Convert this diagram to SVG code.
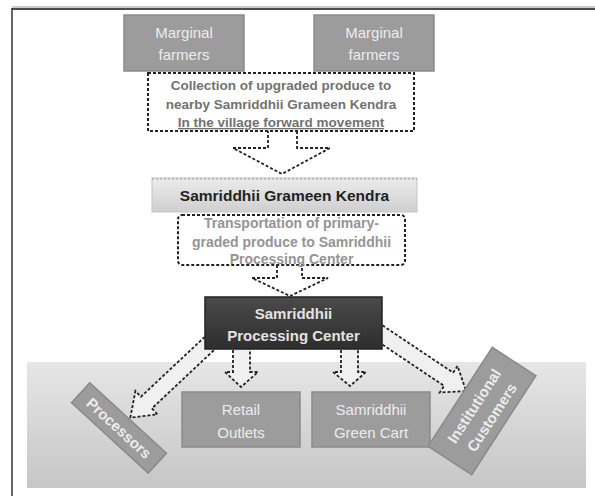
<svg xmlns="http://www.w3.org/2000/svg" width="595" height="496" viewBox="0 0 595 496">
<defs>
<linearGradient id="band" x1="0" y1="0" x2="0" y2="1">
<stop offset="0" stop-color="#e6e6e6"/>
<stop offset="1" stop-color="#c6c6c6"/>
</linearGradient>
<linearGradient id="bar" x1="0" y1="0" x2="0" y2="1">
<stop offset="0" stop-color="#ececec"/>
<stop offset="1" stop-color="#cfcfcf"/>
</linearGradient>
<linearGradient id="dark" x1="0" y1="0" x2="0" y2="1">
<stop offset="0" stop-color="#4a4a4a"/>
<stop offset="1" stop-color="#2e2e2e"/>
</linearGradient>
</defs>
<style>
text{font-family:"Liberation Sans",Arial,sans-serif;text-anchor:middle}
.gbox{fill:#9c9c9c;stroke:#8a8a8a;stroke-width:1.5}
.gtxt{fill:#ececec;font-size:15px}
.dash{fill:#ffffff;stroke:#222;stroke-width:2;stroke-dasharray:3,2}
.arrow{fill:#ffffff;stroke:#222;stroke-width:1.8;stroke-dasharray:3,2;stroke-linejoin:miter}
.arrowl{fill:#f0f0f0;stroke:#222;stroke-width:1.8;stroke-dasharray:3,2}
.dtxt{fill:#727272;font-size:13.5px;font-weight:bold}
.ltxt{fill:#949494;font-size:14px;font-weight:bold}
</style>
<rect x="0" y="0" width="595" height="496" fill="#ffffff"/>
<line x1="12" y1="7" x2="595" y2="7" stroke="#999" stroke-width="1"/>
<line x1="12" y1="9" x2="595" y2="9" stroke="#111" stroke-width="1.5"/>
<line x1="12" y1="8" x2="12" y2="496" stroke="#333" stroke-width="1.5"/>
<rect x="27" y="362" width="559" height="126" fill="url(#band)"/>
<g id="connectors">
<polygon class="arrow" points="268,120 268,148 233,148 282,174 330,148 297,148 297,120"/>
<polygon class="arrow" points="277,255 277,278 252,278 290,296 328,278 302,278 302,255"/>
<polygon class="arrowl" points="233,340 233,372 225,372 241,387 258,372 250,372 250,340"/>
<polygon class="arrowl" points="341,340 341,372 333,372 350,386 366,372 358,372 358,340"/>
<polygon class="arrowl" transform="translate(212,341) rotate(136.8)" points="0,-8 90,-8 90,-16 112,0 90,16 90,8 0,8"/>
<polygon class="arrowl" transform="translate(378,332) rotate(33.8)" points="0,-8 85,-8 85,-16 106,0 85,16 85,8 0,8"/>
</g>
<g id="farmers1">
<rect class="gbox" x="124" y="15" width="120" height="56"/>
<text class="gtxt" x="184" y="38">Marginal</text>
<text class="gtxt" x="184" y="60">farmers</text>
</g>
<g id="farmers2">
<rect class="gbox" x="314" y="15" width="120" height="56"/>
<text class="gtxt" x="374" y="38">Marginal</text>
<text class="gtxt" x="374" y="60">farmers</text>
</g>
<g id="collection">
<rect class="dash" x="148" y="73" width="266" height="58"/>
<text class="dtxt" x="281" y="90">Collection of  upgraded produce to</text>
<text class="dtxt" x="281" y="109">nearby Samriddhii Grameen Kendra</text>
<text class="dtxt" x="281" y="127" text-decoration="underline">In the village forward movement</text>
</g>
<g id="grameen">
<rect x="152" y="178" width="265" height="34" fill="url(#bar)" stroke="#c4c4c4" stroke-width="1"/>
<line x1="152" y1="179" x2="417" y2="179" stroke="#999" stroke-width="1" stroke-dasharray="2,2"/>
<text x="284.5" y="201" fill="#222" font-size="15.5" font-weight="bold">Samriddhii Grameen Kendra</text>
</g>
<g id="transport">
<rect class="dash" x="178" y="215" width="227" height="50" rx="4"/>
<text class="ltxt" x="291.5" y="228">Transportation of  primary-</text>
<text class="ltxt" x="291.5" y="247">graded produce to Samriddhii</text>
<text class="ltxt" x="291.5" y="264">Processing Center</text>
</g>
<g id="processing">
<rect x="205" y="297" width="177" height="52" fill="url(#dark)" stroke="#222" stroke-width="1.5"/>
<text x="293.5" y="319" fill="#e2e2e2" font-size="15" font-weight="bold">Samriddhii</text>
<text x="293.5" y="341" fill="#e2e2e2" font-size="15" font-weight="bold">Processing Center</text>
</g>
<g id="processors" transform="translate(119,428) rotate(42.5)">
<rect class="gbox" x="-52" y="-13.5" width="104" height="27"/>
<text class="gtxt" x="0" y="5.5" font-size="14.5" font-weight="bold">Processors</text>
</g>
<g id="retail">
<rect class="gbox" x="182" y="392" width="118" height="55"/>
<text class="gtxt" x="241" y="415">Retail</text>
<text class="gtxt" x="241" y="438">Outlets</text>
</g>
<g id="greencart">
<rect class="gbox" x="312" y="392" width="118" height="55"/>
<text class="gtxt" x="371" y="415">Samriddhii</text>
<text class="gtxt" x="371" y="438">Green Cart</text>
</g>
<g id="institutional" transform="translate(482,411) rotate(-57)">
<rect class="gbox" x="-59" y="-26" width="118" height="52"/>
<text class="gtxt" x="0" y="-4" font-size="14" font-weight="bold">Institutional</text>
<text class="gtxt" x="0" y="17" font-size="14" font-weight="bold">Customers</text>
</g>
</svg>
